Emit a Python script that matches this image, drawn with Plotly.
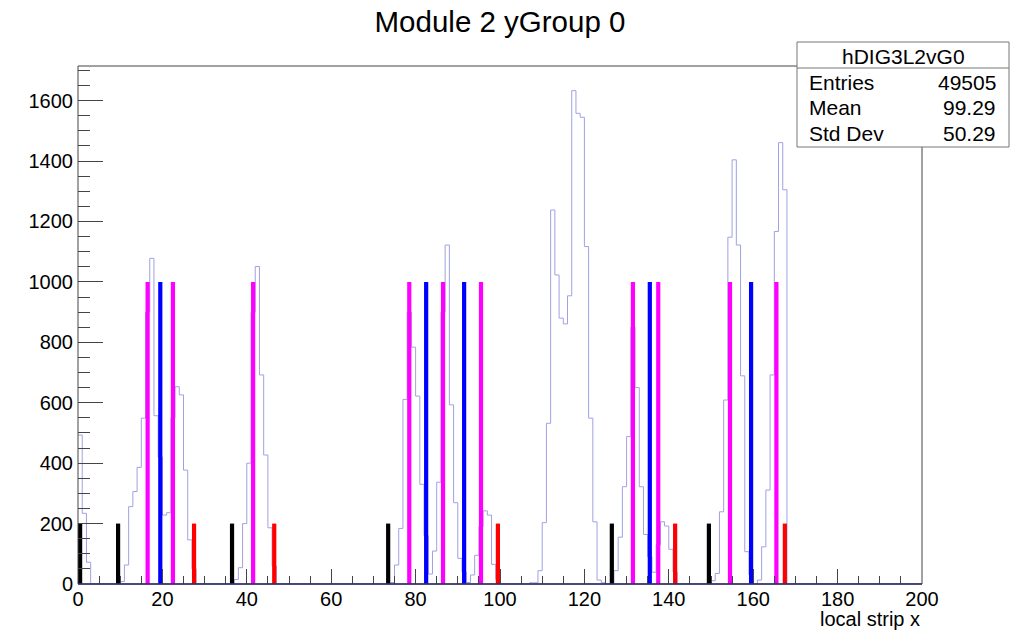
import plotly.graph_objects as go

# ---------------- data ----------------
counts = [
    493, 234, 72, 0, 0, 0, 0, 0, 0, 0,            # 0-9
    8, 63, 256, 306, 386, 549, 900, 1078, 557, 420,  # 10-19
    228, 236, 550, 653, 626, 377, 146, 50, 0, 0,     # 20-29
    0, 0, 0, 0, 0, 0, 0, 15, 54, 200,                # 30-39
    400, 900, 1051, 692, 427, 186, 60, 0, 0, 0,      # 40-49
    0, 0, 0, 0, 0, 0, 0, 0, 0, 0,                    # 50-59
    0, 0, 0, 0, 0, 0, 0, 0, 0, 0,                    # 60-69
    0, 0, 0, 0, 5, 63, 184, 611, 900, 784,           # 70-79
    622, 330, 160, 33, 109, 337, 900, 1122, 593, 269,  # 80-89
    85, 40, 5, 30, 95, 190, 242, 228, 65, 15,        # 90-99
    0, 0, 0, 0, 0, 0, 0, 4, 4, 44,                   # 100-109
    203, 532, 1238, 1023, 880, 861, 954, 1633, 1558, 1545,  # 110-119
    1117, 549, 206, 13, 4, 0, 0, 44, 155, 322,       # 120-129
    488, 850, 650, 322, 164, 90, 39, 130, 206, 192,  # 130-139
    115, 40, 0, 0, 0, 0, 0, 0, 0, 0,                 # 140-149
    11, 35, 239, 609, 1148, 1404, 1122, 689, 107, 30,  # 150-159
    0, 13, 123, 311, 692, 1167, 1461, 1305, 0, 0,    # 160-169
    0, 0, 0, 0, 0, 0, 0, 0, 0, 0,                    # 170-179
    0, 0, 0, 0, 0, 0, 0, 0, 0, 0,                    # 180-189
    0, 0, 0, 0, 0, 0, 0, 0, 0, 0,                    # 190-199
]

black_strips = [0, 9, 36, 73, 126, 149]
black_height = 200
magenta_strips = [16, 22, 41, 78, 86, 95, 131, 137, 154, 165]
magenta_height = 1000
blue_strips = [19, 82, 91, 135, 159]
blue_height = 1000
red_strips = [27, 46, 99, 141, 167]
red_height = 200

hist_name = "hDIG3L2vG0"
stats_labels = ["Entries", "Mean", "Std Dev"]
stats_values = ["49505", "99.29", "50.29"]
title_text = "Module 2 yGroup 0"
x_title = "local strip x"

# ---------------- geometry ----------------
W_PX, H_PX = 1017, 630
L, R, T, B = 78, 922, 66, 584
PW, PH = R - L, B - T


def px(xp):
    return (xp - L) / PW


def py(yp):
    return (B - yp) / PH


FONT = "Liberation Sans, Arial, Helvetica, sans-serif"

fig = go.Figure()

# histogram outline (step)
hx = list(range(len(counts))) + [len(counts)]
hy = counts + [counts[-1]]
fig.add_trace(go.Scatter(
    x=hx, y=hy, mode="lines", line=dict(color="#a0a0e4", width=1, shape="hv"),
    hoverinfo="skip", showlegend=False))


def bar_trace(strips, height, color):
    xs, ys = [], []
    for s in strips:
        xs += [s + 0.5, s + 0.5, None]
        ys += [0, height, None]
    return go.Scatter(x=xs, y=ys, mode="lines",
                      line=dict(color=color, width=4.2),
                      hoverinfo="skip", showlegend=False)


fig.add_trace(bar_trace(black_strips, black_height, "#000000"))
fig.add_trace(bar_trace(magenta_strips, magenta_height, "#ff00ff"))
fig.add_trace(bar_trace(blue_strips, blue_height, "#0000ff"))
fig.add_trace(bar_trace(red_strips, red_height, "#ff0000"))

ymax = max(counts) * 1.05

fig.update_layout(
    width=W_PX, height=H_PX, autosize=False,
    margin=dict(l=L, r=W_PX - R, t=T, b=H_PX - B, pad=0),
    paper_bgcolor="white", plot_bgcolor="white",
    font=dict(family=FONT, color="black", size=20),
    title=dict(text=title_text, x=0.5, xref="paper", xanchor="center",
               y=1 - 22 / H_PX, yref="container", yanchor="middle",
               font=dict(size=29.5, family=FONT, color="black")),
    showlegend=False,
    xaxis=dict(range=[0, 200], showgrid=False, zeroline=False, showline=False,
               ticks="inside", ticklen=15, tickwidth=1, tickcolor="#444",
               tick0=0, dtick=20, ticklabelstandoff=1,
               tickfont=dict(size=20, family=FONT, color="black"),
               minor=dict(ticks="inside", ticklen=8, tickwidth=1,
                          tickcolor="#444", tick0=0, dtick=5)),
    yaxis=dict(range=[0, ymax], showgrid=False, zeroline=False, showline=False,
               ticks="inside", ticklen=25, tickwidth=1, tickcolor="#444",
               tick0=0, dtick=200, ticklabelstandoff=4,
               tickfont=dict(size=20, family=FONT, color="black"),
               minor=dict(ticks="inside", ticklen=12, tickwidth=1,
                          tickcolor="#444", tick0=0, dtick=50)),
)

shapes = [
    # frame
    dict(type="rect", xref="paper", yref="paper", x0=0, x1=1, y0=0, y1=1,
         line=dict(color="#444", width=1), layer="above"),
    # baseline
    dict(type="line", xref="paper", yref="paper", x0=0, x1=1, y0=0, y1=0,
         line=dict(color="#2e2e6e", width=1.5), layer="above"),
    # stats box
    dict(type="rect", xref="paper", yref="paper",
         x0=px(797), x1=px(1009), y0=py(147), y1=py(42),
         fillcolor="white", line=dict(color="#777", width=1), layer="above"),
    dict(type="line", xref="paper", yref="paper",
         x0=px(797), x1=px(1009), y0=py(68), y1=py(68),
         line=dict(color="#777", width=1), layer="above"),
]
fig.update_layout(shapes=shapes)

ann = [
    dict(text=x_title, xref="paper", yref="paper", x=1, y=py(618.5),
         xanchor="right", yanchor="middle", showarrow=False,
         font=dict(size=20, family=FONT, color="black")),
    dict(text=hist_name, xref="paper", yref="paper", x=px(903), y=py(56),
         xanchor="center", yanchor="middle", showarrow=False,
         font=dict(size=21, family=FONT, color="black")),
]
row_y = [82, 108, 133]
for lab, val, yy in zip(stats_labels, stats_values, row_y):
    ann.append(dict(text=lab, xref="paper", yref="paper", x=px(807), y=py(yy),
                    xanchor="left", yanchor="middle", showarrow=False,
                    font=dict(size=21, family=FONT, color="black")))
    ann.append(dict(text=val, xref="paper", yref="paper", x=px(998), y=py(yy),
                    xanchor="right", yanchor="middle", showarrow=False,
                    font=dict(size=21, family=FONT, color="black")))
fig.update_layout(annotations=ann)

fig.write_html("out.html")
